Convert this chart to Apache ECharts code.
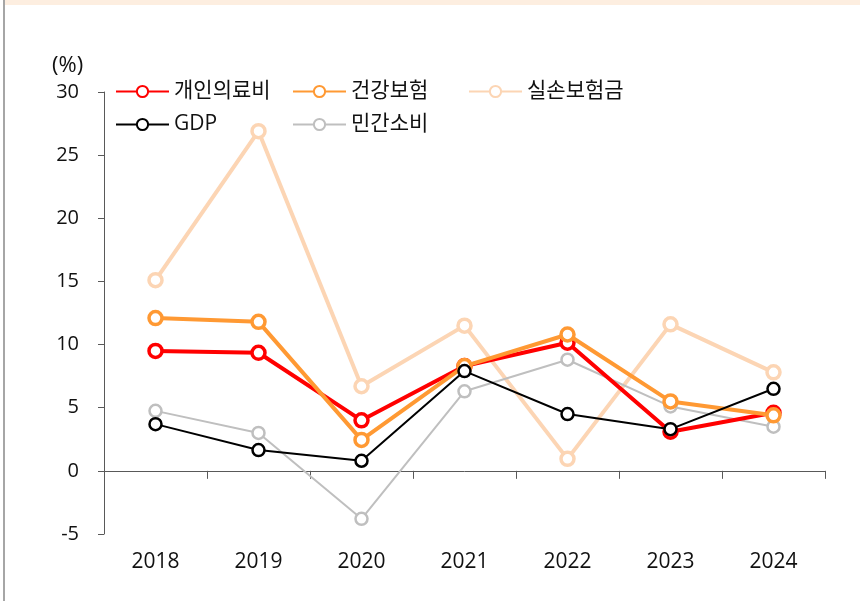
<!DOCTYPE html>
<html>
<head>
<meta charset="utf-8">
<script src="https://cdn.jsdelivr.net/npm/echarts@6/dist/echarts.min.js"></script>
<style>
  html, body { margin: 0; padding: 0; background: #fff; }
  #chart { width: 860px; height: 601px; }
</style>
</head>
<body>
<div id="chart"></div>
<script>
// data
var years = ['2018', '2019', '2020', '2021', '2022', '2023', '2024'];
var personal = [9.5, 9.35, 4.0, 8.3, 10.15, 3.1, 4.6];      // 개인의료비
var health = [12.1, 11.8, 2.45, 8.3, 10.8, 5.5, 4.4];       // 건강보험
var indemnity = [15.1, 26.9, 6.7, 11.5, 0.95, 11.6, 7.8];   // 실손보험금
var gdp = [3.7, 1.65, 0.8, 7.9, 4.5, 3.3, 6.5];             // GDP
var consumption = [4.75, 3.0, -3.8, 6.3, 8.8, 5.1, 3.5];    // 민간소비
var yTicks = [-5, 0, 5, 10, 15, 20, 25, 30];

var font = '"Open Sans", "Noto Sans CJK KR", sans-serif';
var chart = echarts.init(document.getElementById('chart'));

function mkSeries(name, data, color, width, z) {
    var thick = width > 3;
    return {
        name: name,
        type: 'line',
        data: data,
        z: z,
        symbol: 'circle',
        symbolSize: thick ? 13 : 12,
        showAllSymbol: true,
        lineStyle: { color: color, width: width },
        itemStyle: { color: '#fff', borderColor: color, borderWidth: thick ? 3.5 : 2.5 },
        emphasis: { disabled: true }
    };
}

function mkLegend(name, left, top) {
    return {
        data: [name],
        left: left,
        top: top,
        padding: 0,
        itemWidth: 53,
        itemHeight: 14,
        itemGap: 0,
        textStyle: { fontFamily: font, fontSize: 21, color: '#111', padding: [0, 0, 0, 0] }
    };
}

var option = {
    animation: false,
    backgroundColor: '#fff',
    textStyle: { fontFamily: font },
    graphic: [
        { type: 'rect', shape: { x: 5, y: 0, width: 855, height: 5 }, style: { fill: '#fdeee0' } },
        { type: 'rect', shape: { x: 3, y: 0, width: 2, height: 601 }, style: { fill: '#a6a6a6' } },
        { type: 'text', left: 52, top: 55, style: { text: '(%)', font: '22px ' + font, fill: '#111' } }
    ],
    legend: [
        mkLegend('개인의료비', 115, 81),
        mkLegend('건강보험', 292, 81),
        mkLegend('실손보험금', 468, 81),
        mkLegend('GDP', 115, 114),
        mkLegend('민간소비', 292, 114)
    ],
    grid: { left: 104, right: 35, top: 92, bottom: 67 },
    xAxis: [
        {
            type: 'category',
            data: years,
            position: 'bottom',
            axisLine: { show: false, onZero: false },
            axisTick: { show: false },
            axisLabel: { fontFamily: font, fontSize: 21, color: '#111', margin: 18 }
        },
        {
            type: 'category',
            data: years,
            position: 'bottom',
            axisLine: { show: true, onZero: true, lineStyle: { color: '#595959', width: 1 } },
            axisTick: { show: true, length: 8, lineStyle: { color: '#595959' } },
            axisLabel: { show: false }
        }
    ],
    yAxis: {
        type: 'value',
        min: yTicks[0],
        max: yTicks[yTicks.length - 1],
        interval: 5,
        axisLine: { show: true, lineStyle: { color: '#595959', width: 1 } },
        axisTick: { show: true, length: 6, lineStyle: { color: '#595959' } },
        splitLine: { show: false },
        axisLabel: { fontFamily: font, fontSize: 20, color: '#111', margin: 25 }
    },
    series: [
        mkSeries('실손보험금', indemnity, '#fcd5b4', 4, 2),
        mkSeries('민간소비', consumption, '#bfbfbf', 2, 2),
        mkSeries('개인의료비', personal, '#ff0000', 4, 3),
        mkSeries('건강보험', health, '#ff9933', 4, 4),
        mkSeries('GDP', gdp, '#000000', 2, 5)
    ]
};
chart.setOption(option);
</script>
</body>
</html>
